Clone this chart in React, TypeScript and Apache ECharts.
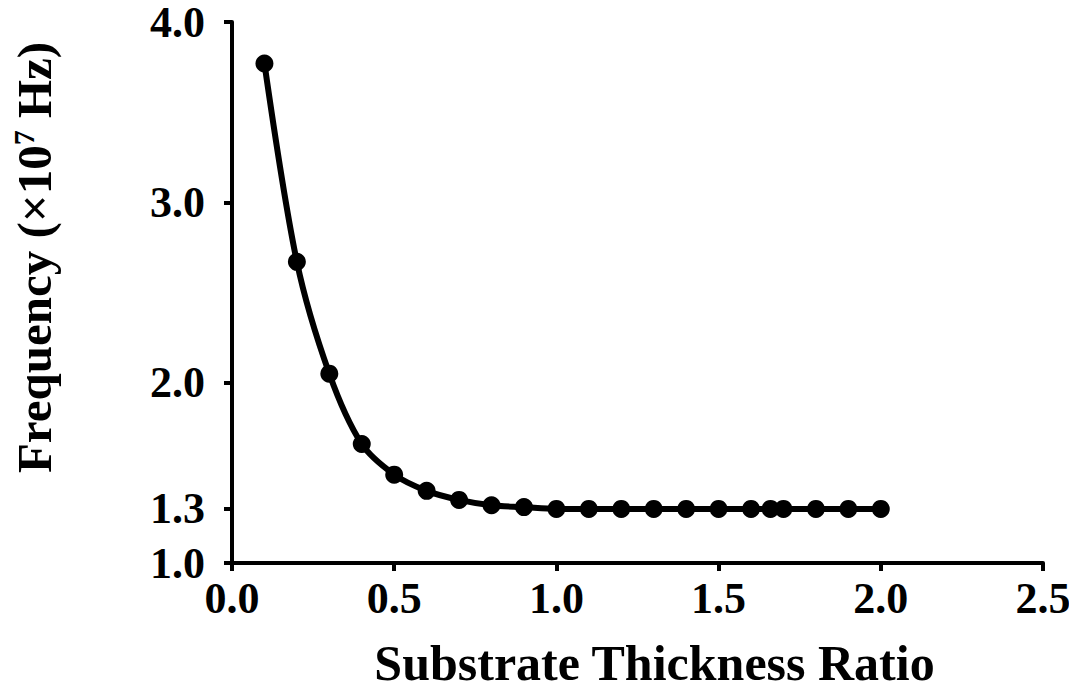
import React, { useEffect, useRef } from "react";
import * as echarts from "echarts";

const ratio = [0.1, 0.2, 0.3, 0.4, 0.5, 0.6, 0.7, 0.8, 0.9, 1.0, 1.1, 1.2, 1.3, 1.4, 1.5, 1.6, 1.66, 1.7, 1.8, 1.9, 2.0];
const freq = [3.77, 2.67, 2.05, 1.66, 1.49, 1.4, 1.35, 1.32, 1.31, 1.3, 1.3, 1.3, 1.3, 1.3, 1.3, 1.3, 1.3, 1.3, 1.3, 1.3, 1.3];
const yTicks = [1.0, 1.3, 2.0, 3.0, 4.0];
const xTitle = "Substrate Thickness Ratio";

const FONT = "'Liberation Serif', 'Times New Roman', serif";

export default function App() {
  const ref = useRef<HTMLDivElement>(null);
  useEffect(() => {
    const chart = echarts.init(ref.current!, null, { renderer: "svg" });
    chart.setOption({
      animation: false,
      backgroundColor: "#ffffff",
      grid: { left: 224, top: 14, right: 26, bottom: 121, containLabel: false, outerBoundsMode: "none" },
      xAxis: {
        type: "value",
        min: 0,
        max: 2.5,
        interval: 0.5,
        name: xTitle,
        nameLocation: "middle",
        nameGap: 80,
        nameTextStyle: { fontFamily: FONT, fontWeight: "bold", fontSize: 50, lineHeight: 40, color: "#000", padding: [0, 0, 0, 34] },
        axisLine: { lineStyle: { color: "#000", width: 4 } },
        axisTick: { show: true, length: 8, lineStyle: { color: "#000", width: 4 } },
        axisLabel: {
          margin: 13,
          fontFamily: FONT,
          fontWeight: "bold",
          fontSize: 44,
          lineHeight: 44,
          color: "#000",
          formatter: (v: number) => v.toFixed(1),
        },
        splitLine: { show: false },
      },
      yAxis: {
        type: "value",
        min: 1,
        max: 4,
        name: "{a|Frequency (×10}{s|7}{a| Hz)}",
        nameLocation: "middle",
        nameRotate: 90,
        nameGap: 172,
        nameTextStyle: {
          padding: [0, 0, 0, 70],
          rich: {
            a: { fontFamily: FONT, fontWeight: "bold", fontSize: 49, color: "#000", lineHeight: 52 },
            s: { fontFamily: FONT, fontWeight: "bold", fontSize: 30, color: "#000", verticalAlign: "top", lineHeight: 34 },
          },
        },
        axisLine: { show: true, lineStyle: { color: "#000", width: 4 } },
        axisTick: { show: true, length: 8, customValues: yTicks, lineStyle: { color: "#000", width: 4 } },
        axisLabel: {
          margin: 27,
          fontFamily: FONT,
          fontWeight: "bold",
          fontSize: 44,
          lineHeight: 28,
          color: "#000",
          customValues: yTicks,
          formatter: (v: number) => v.toFixed(1),
        },
        splitLine: { show: false },
      },
      series: [
        {
          type: "line",
          data: ratio.map((x, i) => [x, freq[i]]),
          smooth: 0.3,
          symbol: "circle",
          symbolSize: 18,
          lineStyle: { color: "#000", width: 6 },
          itemStyle: { color: "#000" },
        },
      ],
    });
    return () => chart.dispose();
  }, []);
  return <div ref={ref} style={{ width: 1061, height: 676 }} />;
}
